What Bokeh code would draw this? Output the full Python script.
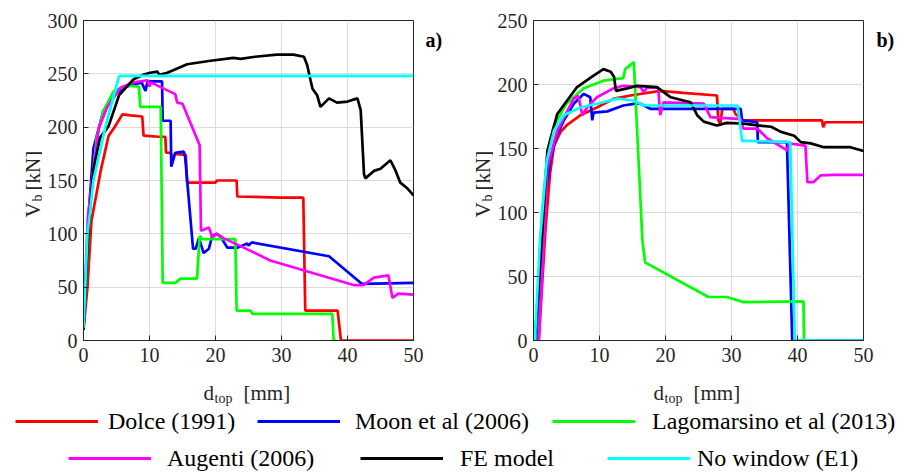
import math
from bokeh.plotting import figure
from bokeh.models import Range1d, Label, Legend, LegendItem, FixedTicker
from bokeh.layouts import column, row
from bokeh.embed import file_html
from bokeh.resources import INLINE

FONT = "Liberation Serif"

SERIES = ["Dolce (1991)", "Moon et al (2006)", "Lagomarsino et al (2013)",
          "Augenti (2006)", "FE model", "No window (E1)"]
COLORS = ["#ff0000", "#0000ff", "#00ff00", "#ff00ff", "#000000", "#00ffff"]

X_TICKS = [0, 10, 20, 30, 40, 50]
A_Y_TICKS = [0, 50, 100, 150, 200, 250, 300]
B_Y_TICKS = [0, 50, 100, 150, 200, 250]

# ---------------- panel a) ----------------
a_dolce_x = [0, 0.6, 1.2, 2.6, 3.8, 4.6, 5.9, 7.1, 8.9, 9.1, 11.4, 12.4, 12.5, 13.2, 13.4, 13.9, 15.5, 15.7,
             20.0, 20.2, 23.2, 23.3, 29.8, 33.3, 33.6, 38.5, 39.0, 50]
a_dolce_y = [10, 50, 112, 159, 192, 199, 212, 211, 210, 192, 191, 191, 176, 176, 171, 175, 174, 148,
             148, 150, 150, 135, 134, 134, 28, 28, 0, 0]

a_moon_x = [0, 0.4, 0.8, 1.5, 3.0, 5.0, 6.5, 8.8, 9.4, 9.7, 11.2, 11.9, 12.0, 13.2, 13.3, 13.9, 15.2, 15.4,
            16.6, 17.0, 17.5, 18.2, 19.0, 19.5, 20.2, 20.8, 21.8, 23.3, 24.8, 25.0, 25.5, 37.2, 42.2, 50]
a_moon_y = [12, 60, 120, 180, 215, 232, 238, 242, 234, 243, 243, 243, 206, 206, 163, 176, 177, 172,
            86, 86, 96, 82, 86, 98, 100, 97, 87, 87, 91, 89, 92, 79, 53, 54]

a_lago_x = [0, 0.5, 1.0, 2.0, 3.0, 4.6, 6.6, 8.4, 8.6, 11.7, 12.0, 13.9, 14.7, 17.2, 17.6, 18.0, 23.0, 23.2,
            25.3, 25.6, 37.7, 37.9, 38.3]
a_lago_y = [12, 70, 130, 190, 215, 234, 239, 238, 219, 219, 54, 54, 58, 58, 98, 95, 95, 28,
            28, 25, 25, 0, 0]

a_aug_x = [0, 0.3, 0.65, 1.2, 2.3, 3.6, 5.6, 7.6, 9.7, 10.0, 10.2, 13.9, 14.2, 15.0, 17.6, 17.8, 19.0, 19.5,
           20.2, 21.2, 25.3, 28.3, 40.9, 42.4, 44.0, 46.2, 46.8, 47.7, 50]
a_aug_y = [10, 60, 115, 145, 199, 219, 237, 242, 244, 238, 242, 231, 223, 222, 183, 103, 106, 97,
           100, 96, 84, 75, 52, 52, 59, 61, 40, 44, 43]

a_fe_x = [0, 0.3, 0.8, 1.5, 2.5, 3.8, 5.4, 7.6, 9.0, 10.1, 11.2, 11.5, 12.7, 15.7, 19.0, 22.7, 23.8, 26.0,
          29.3, 31.8, 33.4, 33.9, 34.4, 34.7, 35.4, 35.9, 37.2, 38.4, 40.0, 41.5, 42.0, 42.5, 42.7, 44.0,
          45.0, 46.5, 47.3, 48.0, 49.0, 50]
a_fe_y = [10, 50, 110, 160, 190, 201, 230, 245, 249, 251, 252, 249, 251, 259, 262, 265, 264, 266,
          268, 268, 266, 258, 244, 236, 230, 219, 227, 223, 224, 227, 216, 156, 152, 159,
          161, 169, 159, 148, 143, 136]

a_nowin_x = [0, 0.6, 1.5, 3.3, 5.4, 50]
a_nowin_y = [12, 100, 150, 200, 248, 248]

# ---------------- panel b) ----------------
b_dolce_x = [0.8, 1.8, 2.5, 3.1, 4.1, 5.0, 7.1, 9.6, 12.2, 14.7, 19.2, 22.7, 27.8, 28.0, 28.3, 28.6, 30.3,
             30.6, 31.8, 43.7, 43.9, 44.2, 50]
b_dolce_y = [0, 86, 130, 152, 163, 168, 176, 182, 189, 191.4, 195, 193.5, 191.4, 172, 169, 181, 181,
             177, 172, 172, 166.6, 170.5, 170.5]

b_moon_x = [0.4, 1.5, 2.5, 3.5, 4.6, 6.1, 7.1, 7.6, 8.6, 8.9, 9.1, 11.2, 13.6, 15.5, 16.2, 17.7, 31.4,
            31.6, 33.9, 34.0, 38.4, 39.2, 50]
b_moon_y = [0, 100, 140, 160, 172, 185, 190, 192.7, 190, 172, 178, 179, 183.6, 185, 185, 181, 181,
            172, 170.5, 155, 155, 0, 0]

b_lago_x = [0.3, 1.3, 2.2, 3.1, 5.0, 7.6, 10.6, 13.6, 13.9, 15.2, 16.5, 16.9, 26.5, 29.3, 31.8, 40.9,
            41.0, 43.0]
b_lago_y = [0, 100, 150, 168, 185, 197, 203, 205, 212, 217.5, 78, 61, 34, 34, 30, 30.5,
            0, 0]

b_aug_x = [0.8, 2.1, 3.6, 6.1, 6.8, 7.4, 8.1, 9.6, 12.1, 13.6, 16.2, 16.7, 17.2, 18.9, 19.2, 19.7, 25.8,
           26.8, 31.4, 31.8, 33.9, 35.4, 38.5, 38.7, 41.2, 41.5, 42.4, 43.5, 45.5, 50]
b_aug_y = [0, 135, 164, 189, 191, 176, 182, 190, 197, 199, 198, 194, 197.5, 197.5, 176, 186, 185,
           174.5, 173, 165.6, 165.6, 158, 148.4, 154, 152.3, 123.7, 123.7, 129, 129.4, 129.4]

b_fe_x = [0.2, 1.3, 2.1, 3.6, 6.6, 9.1, 10.6, 11.7, 12.2, 12.5, 14.2, 15.7, 18.7, 20.8, 22.7, 23.8, 24.8,
          25.8, 27.8, 29.3, 31.8, 34.0, 36.0, 37.5, 39.5, 40.5, 42.0, 44.0, 46.0, 48.0, 50]
b_fe_y = [0, 83, 148, 177, 198, 207, 212, 210, 206, 195, 197, 199, 198, 190, 187.5, 186, 176,
          171, 168, 170, 169.5, 168, 167, 163, 160, 155, 154, 151, 151, 151, 148]

b_nowin_x = [0.2, 1.0, 2.0, 3.1, 4.6, 7.1, 9.6, 12.7, 15.2, 16.7, 30.9, 31.1, 31.6, 32.4, 38.9, 39.6, 50]
b_nowin_y = [0, 80, 140, 164, 176, 182, 185, 189, 187.5, 183.6, 183.6, 177, 156, 156, 155, 0, 0]

A_DATA = [(a_dolce_x, a_dolce_y), (a_moon_x, a_moon_y), (a_lago_x, a_lago_y),
          (a_aug_x, a_aug_y), (a_fe_x, a_fe_y), (a_nowin_x, a_nowin_y)]
B_DATA = [(b_dolce_x, b_dolce_y), (b_moon_x, b_moon_y), (b_lago_x, b_lago_y),
          (b_aug_x, b_aug_y), (b_fe_x, b_fe_y), (b_nowin_x, b_nowin_y)]

# ---------------- layout geometry (page px; the page has no body margin) ----------------
PAGE_W, PAGE_H = 904, 473
FW, FH = 330, 320          # frame size
BT, BB = 20, 34            # top / bottom borders of the panels
TOP_H = BT + FH + BB       # 374
BOT_H = PAGE_H - TOP_H     # 99 : x labels + legend
INK = "#262626"


def strip(w, h, bt=0, bb=0):
    # y data value = distance in px from the strip's bottom edge
    s = figure(width=w, height=h, x_range=Range1d(0, w), y_range=Range1d(bb, h - bt),
               output_backend="svg", toolbar_location=None, x_axis_location=None, y_axis_location=None,
               min_border=0, min_border_left=0, min_border_right=0,
               min_border_top=bt, min_border_bottom=bb)
    s.grid.visible = False
    s.outline_line_color = None
    return s


def make_panel(data, ymax, yticks, width, bl, br):
    p = figure(width=width, height=TOP_H, x_range=Range1d(0, 50), y_range=Range1d(0, ymax),
               output_backend="svg", toolbar_location=None,
               min_border_left=bl, min_border_right=br, min_border_top=BT, min_border_bottom=BB)
    p.xaxis.ticker = FixedTicker(ticks=X_TICKS)
    p.yaxis.ticker = FixedTicker(ticks=yticks)
    p.axis.major_label_text_font = FONT
    p.axis.major_label_text_font_size = "20px"
    p.axis.major_label_text_color = INK
    p.axis.axis_line_color = INK
    p.axis.major_tick_line_color = INK
    p.axis.major_tick_in = 5
    p.axis.major_tick_out = 0
    p.axis.minor_tick_line_color = None
    p.xaxis.major_label_standoff = 7
    p.yaxis.major_label_standoff = 6
    p.grid.grid_line_color = "#dcdcdc"
    p.outline_line_color = INK
    p.outline_line_alpha = 1.0
    for (xs, ys), col in zip(data, COLORS):
        p.line(xs, ys, line_color=col, line_width=2.7)
    return p


def add_ylabel(s, page_left, x_base):
    """V_b [kN], rotated, baseline at page x = x_base."""
    a = math.pi / 2
    common = dict(text_font=FONT, text_color=INK, text_align="left", text_baseline="alphabetic", angle=a)
    s.add_layout(Label(x=x_base - page_left, y=TOP_H - 217, text="V", text_font_size="21px", **common))
    s.add_layout(Label(x=x_base + 5 - page_left, y=TOP_H - 201, text="b", text_font_size="14px", **common))
    s.add_layout(Label(x=x_base - page_left, y=TOP_H - 190, text="[kN]", text_font_size="21px", **common))


def add_tag(s, page_left, x_page, text):
    s.add_layout(Label(x=x_page - page_left, y=TOP_H - 39, text=text, text_font=FONT,
                       text_font_size="20px", text_font_style="bold", text_color="black",
                       text_align="left", text_baseline="alphabetic"))


# widths: 42 + 382 + 69 + 381 + 30 = 904
ys_a = strip(42, TOP_H, BT, BB)                         # page x 0 .. 42
p1 = make_panel(A_DATA, 300, A_Y_TICKS, 382, 41, 11)   # 42 .. 424, frame 83..413
mid = strip(69, TOP_H, BT, BB)                          # 424 .. 493
p2 = make_panel(B_DATA, 250, B_Y_TICKS, 381, 40, 11)   # 493 .. 874, frame 533..863
rs = strip(30, TOP_H, BT, BB)                           # 874 .. 904

add_ylabel(ys_a, 0, 32)
add_ylabel(mid, 424, 482)
add_tag(mid, 424, 425, "a)")
add_tag(rs, 874, 876, "b)")

# ---------------- bottom strip: x labels + legend ----------------
bs = strip(PAGE_W, BOT_H)
common = dict(text_font=FONT, text_color=INK, text_align="left", text_baseline="alphabetic")
for frame_left in (83, 533):
    bs.add_layout(Label(x=frame_left + 120, y=PAGE_H - 392, text="d", text_font_size="21px", **common))
    bs.add_layout(Label(x=frame_left + 131, y=PAGE_H - 398, text="top", text_font_size="14px", **common))
    bs.add_layout(Label(x=frame_left + 160, y=PAGE_H - 392, text="[mm]", text_font_size="21px", **common))

bs.extra_y_ranges = {"hidden": Range1d(10000, 10001)}
# (glyph start page x, row centre page y, label standoff)
leg_pos = [(15, 421, 10), (257, 421, 15), (552, 421, 17),
           (68, 458, 16), (360, 458, 17), (607, 458, 7)]
for name, col, (xs, ys), (gx, cy, stand) in zip(SERIES, COLORS, A_DATA, leg_pos):
    r = bs.line(xs, ys, line_color=col, line_width=3, y_range_name="hidden")
    lg = Legend(items=[LegendItem(label=name, renderers=[r])], location=(gx, PAGE_H - cy - 15),
                orientation="horizontal", glyph_width=83, glyph_height=30, label_height=30,
                label_standoff=stand, padding=0, margin=0, spacing=0,
                label_text_font=FONT, label_text_font_size="24px", label_text_color="black",
                border_line_color=None, background_fill_alpha=0)
    bs.add_layout(lg, "center")

layout = column(row(ys_a, p1, mid, p2, rs), bs)
open("out.html", "w").write(file_html(layout, INLINE))
